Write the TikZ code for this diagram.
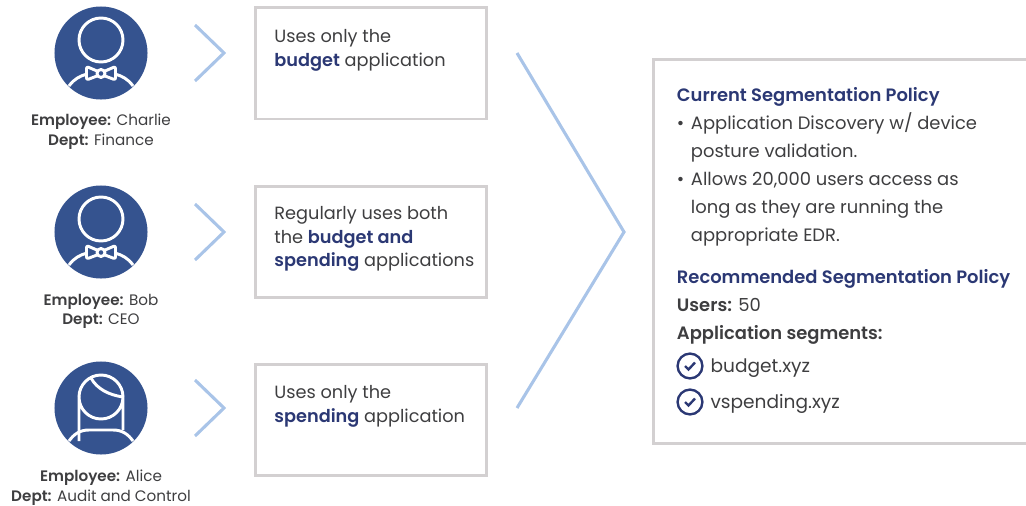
\documentclass[tikz,border=0pt]{standalone}
\usepackage{fontspec}
\setmainfont{Poppins}[BoldFont={Poppins SemiBold}]
\usetikzlibrary{shapes.geometric, arrows, positioning, calc}
\definecolor{avatarblue}{HTML}{35538F}
\definecolor{chevronblue}{HTML}{A9C4E8}
\definecolor{boxgray}{HTML}{D3D0D1}
\definecolor{titlenavy}{HTML}{2B3874}
\definecolor{bodygray}{HTML}{3E3E40}
\newcommand{\hl}[1]{\textbf{\textcolor{titlenavy}{#1}}}
\tikzstyle{avatar} = [circle, minimum size=2.325cm, inner sep=0pt, fill=avatarblue]
\tikzstyle{appbox} = [rectangle, minimum width=5.78cm, minimum height=2.78cm, inner sep=0pt, draw=boxgray, line width=2.1pt, text=bodygray, font=\fontsize{12.6pt}{17pt}\selectfont]
\tikzstyle{panel} = [rectangle, minimum width=10cm, minimum height=9.575cm, inner sep=0pt, draw=boxgray, line width=2.1pt, text=bodygray, font=\fontsize{12.75pt}{19.95pt}\selectfont]
\tikzstyle{caption} = [align=center, text=bodygray, font=\fontsize{10.8pt}{14.2pt}\selectfont]
\tikzstyle{chevron} = [chevronblue, line width=2.2pt]
\tikzstyle{checkring} = [circle, minimum size=.62cm, inner sep=0pt, draw=titlenavy, line width=1.7pt]
\tikzstyle{segment} = [text=bodygray, font=\fontsize{13.2pt}{17pt}\selectfont]
\tikzset{
	figure/.style={white, line width=2.1pt, line join=round},
	bowtie/.pic={
		\draw [figure] (0,-13) circle (22);
		\draw [figure] (-32,33) .. controls (-27,26) and (-21,23) .. (-14,21);
		\draw [figure] (32,33) .. controls (27,26) and (21,23) .. (14,21);
		\draw [figure, rounded corners=1.5pt] (-4,18) -- (-14.5,13.5) -- (-14.5,27) -- (-4,23);
		\draw [figure, rounded corners=1.5pt] (4,18) -- (14.5,13.5) -- (14.5,27) -- (4,23);
		\draw [figure] (0,20.5) circle (4);
	},
	longhair/.pic={
		\draw [figure] (-22,33) -- (-22,-11) arc (180:0:22) -- (22,22);
		\draw [figure] (-22,-11) arc (180:360:22);
		\draw [figure] (-10,-30) .. controls (-4,-19) and (8,-13) .. (22,-11);
		\draw [figure] (-32,33) .. controls (-27,26) and (-21,22) .. (-12,22) -- (12,22) .. controls (21,22) and (27,26) .. (32,33);
	},
	smallchev/.pic={
		\draw [chevron] (94,-28) -- (123,0) -- (94,28);
	}
}

\begin{document}
\begin{tikzpicture}[x=.025cm, y=-.025cm, node distance=6.75cm]
	\useasboundingbox (0,0) rectangle (1026,506);
	\clip (0,0) rectangle (1026,506);

	% People
	\node (charlie) [avatar] at (101,53) {};
	\node (bob) [avatar] at (101,232) {};
	\node (alice) [avatar] at (101,408) {};
	\pic at (charlie) {bowtie};
	\pic at (bob) {bowtie};
	\pic at (alice) {longhair};
	\node (charlielabel) [caption, below=.24cm of charlie] {\textbf{Employee:} Charlie\\\textbf{Dept:} Finance};
	\node (boblabel) [caption, below=.25cm of bob] {\textbf{Employee:} Bob\\\textbf{Dept:} CEO};
	\node (alicelabel) [caption, below=.25cm of alice] {\textbf{Employee:} Alice\\\textbf{Dept:} Audit and Control};

	% Small chevrons
	\pic at (charlie) {smallchev};
	\pic at (bob) {smallchev};
	\pic at (alice) {smallchev};

	% Application boxes (top aligned text)
	\node (budget) [appbox, right of=charlie, yshift=-.26cm] {\parbox[c][1.72cm][t]{4.83cm}{\raggedright Uses only the\\\hl{budget} application}};
	\node (both) [appbox, right of=bob, yshift=-.25cm] {\parbox[c][1.8cm][t]{4.83cm}{\raggedright Regularly uses both\\the \hl{budget and}\\\mbox{\hl{spending} applications}}};
	\node (spending) [appbox, right of=alice, yshift=-.3cm] {\parbox[c][1.75cm][t]{4.83cm}{\raggedright Uses only the\\\mbox{\hl{spending} application}}};

	% Big chevron
	\coordinate (bigtop) at (517,53);
	\coordinate (bigtip) at (624,232);
	\coordinate (bigbottom) at (517,408);
	\draw [chevron] (bigtop) -- (bigtip) -- (bigbottom);

	% Policy panel, right edge runs off the page
	\node (policy) [panel] at (854,251.5) {\parbox[c][8.2cm][t]{8.85cm}{%
		\hl{Current Segmentation Policy}\\
		\makebox[.35cm][l]{•}Application Discovery w/ device\\
		\hspace*{.35cm}posture validation.\\
		\makebox[.35cm][l]{•}Allows 20,000 users access as\\
		\hspace*{.35cm}long as they are running the\\
		\hspace*{.35cm}appropriate EDR.\\[9.5pt]
		\hl{Recommended Segmentation Policy}\\
		\textbf{Users:} 50\\
		\textbf{Application segments:}}};

	% Segments
	\node (checkone) [checkring] at (690,366) {};
	\node (checktwo) [checkring] at (690,402) {};
	\draw [titlenavy, line width=1.7pt] ($(checkone)+(-5,0)$) -- ($(checkone)+(-1.5,3.5)$) -- ($(checkone)+(5,-3.5)$);
	\draw [titlenavy, line width=1.7pt] ($(checktwo)+(-5,0)$) -- ($(checktwo)+(-1.5,3.5)$) -- ($(checktwo)+(5,-3.5)$);
	\node (segone) [segment, right=.05cm of checkone, yshift=-.05cm] {budget.xyz};
	\node (segtwo) [segment, right=.05cm of checktwo, yshift=-.06cm] {vspending.xyz};

\end{tikzpicture}
\end{document}
